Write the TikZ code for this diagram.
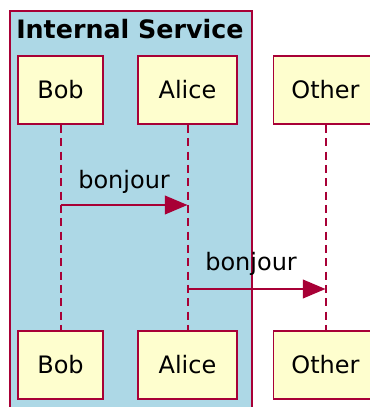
\documentclass[tikz,border=0pt]{standalone}
\usepackage{fontspec}
\setmainfont{DejaVu Sans}
\usetikzlibrary{arrows.meta}

\begin{document}
\begin{tikzpicture}[x=0.75pt, y=-0.75pt,
    participant/.style={draw=lineColour, fill=headColour, line width=1.4pt,
        minimum height=51pt, inner sep=0pt, font=\fontsize{18}{20}\selectfont},
    lifeline/.style={draw=lineColour, line width=1.5pt, dash pattern=on 6pt off 4pt},
    message/.style={draw=lineColour, line width=1.4pt,
        -{Triangle[length=17pt, width=14pt]}},
    msglabel/.style={anchor=base west, inner sep=0pt, font=\fontsize{18}{20}\selectfont}]
    \definecolor{lineColour}{HTML}{A80036}
    \definecolor{headColour}{HTML}{FEFECE}
    \definecolor{boxColour}{HTML}{ADD8E6}

    % Page frame, the box and Other run past the edges
    \useasboundingbox (0,0) rectangle (370,407);
    \clip (0,0) rectangle (370,407);

    % Box around the internal participants
    \filldraw[fill=boxColour, draw=lineColour, line width=1.4pt] (10,11) rectangle (252,420);
    \node[anchor=base west, inner sep=0pt, font=\bfseries\fontsize{19}{21}\selectfont]
        (title) at (16,38) {Internal Service};

    % Heads
    \node[participant, minimum width=63.75pt] (bobTop)   at (60.5,90)  {Bob};
    \node[participant, minimum width=74.25pt] (aliceTop) at (187.5,90) {Alice};
    \node[participant, minimum width=78pt]    (otherTop) at (325.5,90) {Other};

    % Tails
    \node[participant, minimum width=63.75pt] (bobBot)   at (60.5,365)  {Bob};
    \node[participant, minimum width=74.25pt] (aliceBot) at (187.5,365) {Alice};
    \node[participant, minimum width=78pt]    (otherBot) at (325.5,365) {Other};

    % Lifelines
    \draw[lifeline] (bobTop.south) -- (bobBot.north);
    \draw[lifeline] (aliceTop.south) -- (aliceBot.north);
    \draw[lifeline] (otherTop.south) -- (otherBot.north);

    % Bob -> Alice
    \coordinate (m1a) at (bobTop.south |- 0,205);
    \coordinate (m1b) at (aliceTop.south |- 0,205);
    \draw[message] (m1a) -- (m1b);
    \node[msglabel] (m1text) at (78,188) {bonjour};

    % Alice -> Other
    \coordinate (m2a) at (aliceTop.south |- 0,289);
    \coordinate (m2b) at (otherTop.south |- 0,289);
    \draw[message] (m2a) -- (m2b);
    \node[msglabel] (m2text) at (205,270) {bonjour};

\end{tikzpicture}
\end{document}
